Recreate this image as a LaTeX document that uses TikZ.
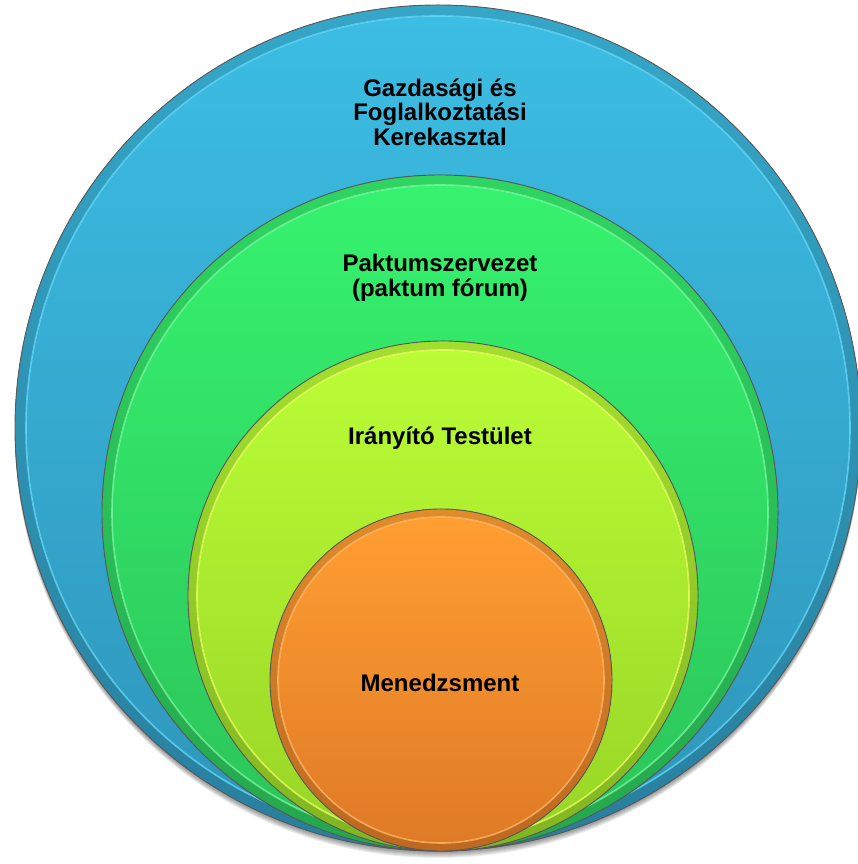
\documentclass[tikz,border=0pt]{standalone}
\usepackage{fontspec}
\setmainfont{Liberation Sans}
\usetikzlibrary{positioning}

\definecolor{blueTop}{HTML}{3CBDE3}
\definecolor{blueBot}{HTML}{2F95BA}
\definecolor{blueHi}{HTML}{66D8F8}
\definecolor{greenTop}{HTML}{36F26E}
\definecolor{greenBot}{HTML}{2BC45A}
\definecolor{greenHi}{HTML}{7CF7A4}
\definecolor{limeTop}{HTML}{BAFD36}
\definecolor{limeBot}{HTML}{98D526}
\definecolor{limeHi}{HTML}{EEFF66}
\definecolor{orangeTop}{HTML}{FF9E32}
\definecolor{orangeBot}{HTML}{DF7A26}
\definecolor{orangeHi}{HTML}{FFBA66}

\tikzset
{
    layer/.style = {top color=#1Top, bottom color=#1Bot},
    rim/.style   = {top color=#1Top!88!black, bottom color=#1Bot!85!black},
    hilite/.style = {draw=#1Hi, line width=1.6pt, opacity=0.8},
    outline/.style = {draw=black!65, line width=0.9pt},
    shadow/.style = {fill=black, opacity=0.07},
    ringtext/.style = {font=\bfseries\fontsize{24}{24.5}\selectfont, align=center, text=black, inner sep=0pt}
}

\begin{document}
\begin{tikzpicture}[x=1pt, y=1pt]
	\useasboundingbox (0,0) rectangle (858,864);

	% soft shadow below the outer ring
	\foreach \d in {1,2,...,7}
		\fill[shadow] (438,436-\d) circle (423);

	% outer ring
	\fill[rim=blue] (438,436) circle (423);
	\fill[layer=blue] (438,436) circle (412);
	\draw[hilite=blue] (438,436) circle (412);
	\draw[outline] (438,436) circle (423);

	% second ring
	\fill[rim=green] (440,351) circle (338);
	\fill[layer=green] (440,351) circle (328);
	\draw[hilite=green] (440,351) circle (328);
	\draw[outline] (440,351) circle (338);

	% third ring
	\fill[rim=lime] (443,268) circle (255);
	\fill[layer=lime] (443,268) circle (246);
	\draw[hilite=lime] (443,268) circle (246);
	\draw[outline] (443,268) circle (255);

	% inner disc
	\fill[rim=orange] (441,184) circle (171);
	\fill[layer=orange] (441,184) circle (163);
	\draw[hilite=orange] (441,184) circle (163);
	\draw[outline] (441,184) circle (171);

	\node (kerek) [ringtext] at (440,752) {Gazdasági és\\Foglalkoztatási\\Kerekasztal};
	\node (paktum) [ringtext] at (440,586) {Paktumszervezet\\(paktum fórum)};
	\node (iranyito) [ringtext] at (440,426) {Irányító Testület};
	\node (menedzs) [ringtext, below=247pt of iranyito.base, anchor=base] {Menedzsment};
\end{tikzpicture}
\end{document}
